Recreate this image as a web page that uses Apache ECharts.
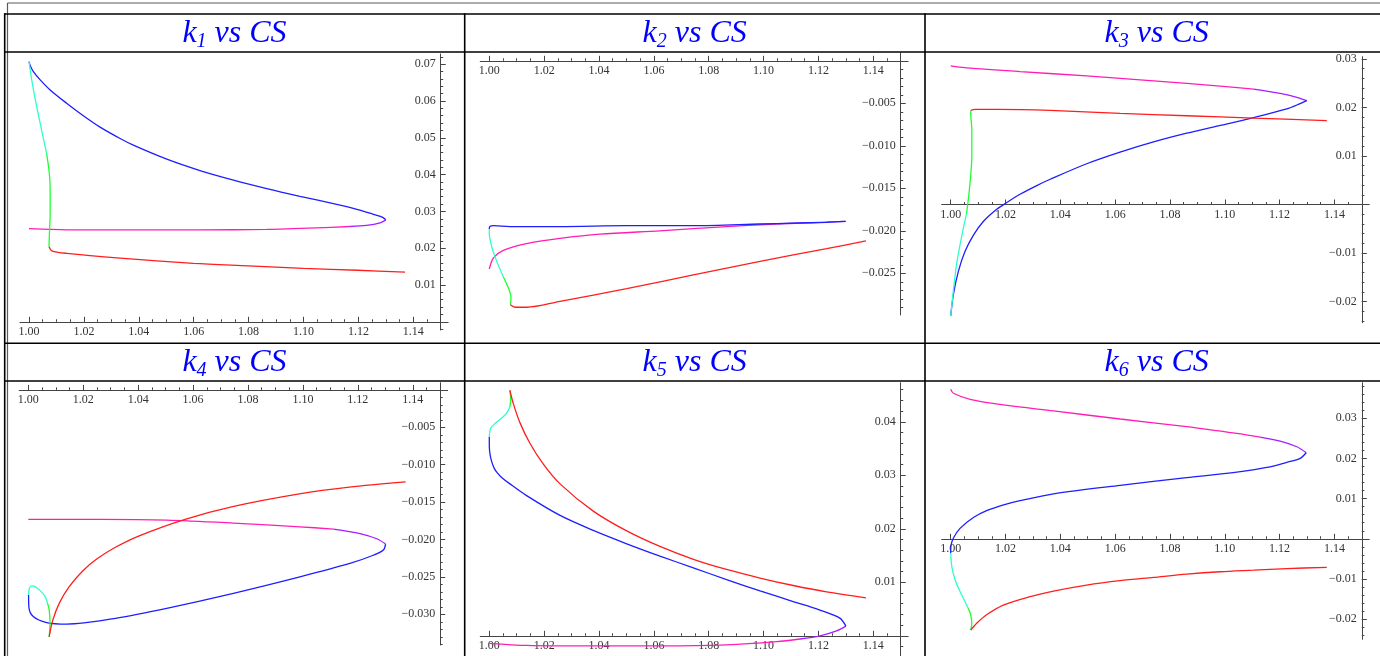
<!DOCTYPE html>
<html><head><meta charset="utf-8">
<script src="https://cdn.jsdelivr.net/npm/echarts@6/dist/echarts.min.js"></script>
<style>html,body{margin:0;padding:0;background:#fff}#c{width:1380px;height:656px}</style>
</head><body><div id="c"></div>
<script>
// ---------- tick labels ----------
const xTicks = [1.00, 1.02, 1.04, 1.06, 1.08, 1.10, 1.12, 1.14];
const k1YTicks = [0.01, 0.02, 0.03, 0.04, 0.05, 0.06, 0.07];
const k2YTicks = [-0.005, -0.010, -0.015, -0.020, -0.025];
const k3YTicks = [0.03, 0.02, 0.01, -0.01, -0.02];
const k4YTicks = [-0.005, -0.010, -0.015, -0.020, -0.025, -0.030];
const k5YTicks = [0.01, 0.02, 0.03, 0.04];
const k6YTicks = [0.03, 0.02, 0.01, -0.01, -0.02];
const subscripts = ['1', '2', '3', '4', '5', '6'];

// ---------- curve data (CS, k) along the parametric path ----------
const k1Magenta = [[1.0000,0.0253],[1.0137,0.0250],[1.0380,0.0250],[1.0623,0.0250],[1.0866,0.0251],[1.1048,0.0255],[1.1170,0.0259]];
const k1Purple = [[1.1170,0.0259],[1.1230,0.0262],[1.1279,0.0269],[1.1300,0.0277]];
const k1Blue = [[1.1300,0.0277],[1.1285,0.0285],[1.1255,0.0292],[1.1198,0.0305],[1.1109,0.0321],[1.0987,0.0341],[1.0866,0.0362],[1.0745,0.0385],[1.0623,0.0411],[1.0502,0.0442],[1.0380,0.0480],[1.0332,0.0498],[1.0259,0.0529],[1.0198,0.0560],[1.0137,0.0594],[1.0077,0.0630],[1.0040,0.0658],[1.0016,0.0680],[1.0005,0.0695],[1.0000,0.0707]];
const k1Cyan = [[1.0000,0.0707],[1.0010,0.0657],[1.0028,0.0585],[1.0046,0.0521],[1.0064,0.0458]];
const k1Green = [[1.0064,0.0458],[1.0074,0.0404],[1.0077,0.0358],[1.0077,0.0295],[1.0074,0.0231],[1.0073,0.0204]];
const k1Red = [[1.0073,0.0204],[1.0083,0.0193],[1.0137,0.0186],[1.0332,0.0173],[1.0599,0.0159],[1.0799,0.0152],[1.1000,0.0145],[1.1198,0.0140],[1.1370,0.0135]];

const k2Magenta = [[1.0000,-0.0245],[1.0015,-0.0232],[1.0051,-0.0223],[1.0136,-0.0215],[1.0258,-0.0209],[1.0403,-0.0204],[1.0622,-0.0200],[1.0865,-0.0195],[1.1048,-0.0192]];
const k2Purple = [[1.1048,-0.0192],[1.1205,-0.0190],[1.1299,-0.0189]];
const k2Blue = [[1.1299,-0.0189],[1.1230,-0.0190],[1.1108,-0.0191],[1.0987,-0.0192],[1.0744,-0.0194],[1.0501,-0.0194],[1.0258,-0.0195],[1.0075,-0.0195],[1.0015,-0.0194],[1.0002,-0.0195],[1.0000,-0.0198]];
const k2Cyan = [[1.0000,-0.0198],[1.0000,-0.0203],[1.0009,-0.0219],[1.0027,-0.0236],[1.0051,-0.0254]];
const k2Green = [[1.0051,-0.0254],[1.0073,-0.0270],[1.0079,-0.0279],[1.0077,-0.0287]];
const k2Red = [[1.0077,-0.0287],[1.0094,-0.0290],[1.0136,-0.0290],[1.0258,-0.0283],[1.0501,-0.0268],[1.0744,-0.0252],[1.0987,-0.0236],[1.1230,-0.0221],[1.1373,-0.0212]];

const k3Magenta = [[1.0000,0.0286],[1.0071,0.0281],[1.0253,0.0274],[1.0496,0.0265],[1.0740,0.0255],[1.0983,0.0244],[1.1105,0.0238]];
const k3Purple = [[1.1105,0.0238],[1.1202,0.0229],[1.1263,0.0221],[1.1299,0.0214]];
const k3Blue = [[1.1299,0.0214],[1.1275,0.0208],[1.1226,0.0197],[1.1105,0.0179],[1.0983,0.0163],[1.0861,0.0147],[1.0740,0.0129],[1.0618,0.0108],[1.0496,0.0084],[1.0363,0.0052],[1.0314,0.0039],[1.0253,0.0021],[1.0202,0.0003],[1.0168,-0.0010],[1.0119,-0.0035],[1.0083,-0.0063],[1.0052,-0.0097],[1.0028,-0.0138],[1.0010,-0.0185],[1.0000,-0.0230]];
const k3Cyan = [[1.0000,-0.0230],[1.0010,-0.0176],[1.0022,-0.0121],[1.0040,-0.0066],[1.0058,-0.0018]];
const k3Green = [[1.0058,-0.0018],[1.0068,0.0030],[1.0077,0.0099],[1.0077,0.0154],[1.0073,0.0188],[1.0073,0.0194]];
const k3Red = [[1.0073,0.0194],[1.0089,0.0196],[1.0168,0.0196],[1.0363,0.0194],[1.0618,0.0188],[1.0861,0.0183],[1.1105,0.0178],[1.1372,0.0173]];

const k4Magenta = [[1.0000,-0.0173],[1.0261,-0.0173],[1.0504,-0.0174],[1.0747,-0.0178],[1.0989,-0.0183],[1.1111,-0.0186]];
const k4Purple = [[1.1111,-0.0186],[1.1208,-0.0192],[1.1269,-0.0199],[1.1301,-0.0206]];
const k4Blue = [[1.1301,-0.0206],[1.1293,-0.0214],[1.1256,-0.0221],[1.1171,-0.0232],[1.0989,-0.0250],[1.0747,-0.0272],[1.0504,-0.0292],[1.0322,-0.0305],[1.0140,-0.0313],[1.0067,-0.0311],[1.0018,-0.0303],[1.0002,-0.0290],[1.0001,-0.0274]];
const k4Cyan = [[1.0001,-0.0274],[1.0004,-0.0265],[1.0012,-0.0262],[1.0024,-0.0263],[1.0042,-0.0268],[1.0061,-0.0276],[1.0070,-0.0285]];
const k4Green = [[1.0070,-0.0285],[1.0076,-0.0294],[1.0079,-0.0312],[1.0076,-0.0330]];
const k4Red = [[1.0076,-0.0330],[1.0089,-0.0308],[1.0113,-0.0285],[1.0149,-0.0263],[1.0198,-0.0242],[1.0249,-0.0226],[1.0319,-0.0210],[1.0404,-0.0195],[1.0571,-0.0173],[1.0744,-0.0156],[1.0987,-0.0139],[1.1169,-0.0130],[1.1374,-0.0123]];

const k5Magenta = [[1.0000,-0.0014],[1.0136,-0.0018],[1.0379,-0.0019],[1.0622,-0.0019],[1.0865,-0.0017],[1.1048,-0.0011],[1.1133,-0.0006]];
const k5Purple = [[1.1133,-0.0006],[1.1206,0.0000],[1.1266,0.0009],[1.1300,0.0018]];
const k5Blue = [[1.1300,0.0018],[1.1278,0.0033],[1.1205,0.0048],[1.1108,0.0064],[1.0987,0.0084],[1.0865,0.0105],[1.0744,0.0127],[1.0622,0.0149],[1.0501,0.0172],[1.0379,0.0197],[1.0258,0.0225],[1.0136,0.0262],[1.0075,0.0284],[1.0045,0.0296],[1.0030,0.0304],[1.0018,0.0313],[1.0009,0.0325],[1.0003,0.0338],[1.0000,0.0355],[1.0000,0.0372]];
const k5Cyan = [[1.0000,0.0372],[1.0005,0.0388],[1.0021,0.0397],[1.0045,0.0407],[1.0063,0.0416],[1.0075,0.0428]];
const k5Green = [[1.0075,0.0428],[1.0078,0.0441],[1.0075,0.0459]];
const k5Red = [[1.0075,0.0459],[1.0087,0.0435],[1.0112,0.0398],[1.0148,0.0360],[1.0197,0.0321],[1.0258,0.0284],[1.0379,0.0233],[1.0501,0.0196],[1.0622,0.0167],[1.0744,0.0143],[1.0865,0.0124],[1.0987,0.0108],[1.1108,0.0094],[1.1230,0.0082],[1.1373,0.0071]];

const k6Magenta = [[1.0000,0.0372],[1.0010,0.0362],[1.0071,0.0347],[1.0192,0.0333],[1.0375,0.0318],[1.0618,0.0298],[1.0861,0.0279],[1.1044,0.0262],[1.1129,0.0253]];
const k6Purple = [[1.1129,0.0253],[1.1202,0.0243],[1.1263,0.0229],[1.1297,0.0214]];
const k6Blue = [[1.1297,0.0214],[1.1275,0.0200],[1.1226,0.0190],[1.1165,0.0179],[1.1044,0.0166],[1.0861,0.0152],[1.0618,0.0133],[1.0375,0.0112],[1.0253,0.0095],[1.0190,0.0084],[1.0131,0.0070],[1.0083,0.0053],[1.0034,0.0026],[1.0010,0.0002],[1.0001,-0.0018],[1.0000,-0.0036]];
const k6Cyan = [[1.0000,-0.0036],[1.0004,-0.0069],[1.0016,-0.0102],[1.0034,-0.0131],[1.0052,-0.0156],[1.0064,-0.0173]];
const k6Green = [[1.0064,-0.0173],[1.0073,-0.0189],[1.0077,-0.0210],[1.0073,-0.0227]];
const k6Red = [[1.0073,-0.0227],[1.0095,-0.0210],[1.0131,-0.0189],[1.0192,-0.0165],[1.0290,-0.0144],[1.0375,-0.0130],[1.0496,-0.0115],[1.0618,-0.0104],[1.0740,-0.0096],[1.0861,-0.0088],[1.0983,-0.0082],[1.1105,-0.0078],[1.1226,-0.0074],[1.1372,-0.0071]];

// ---------- styling / layout ----------
const segColors = {magenta:'#ff1eb4', purple:'#a41eff', blue:'#1e1eff', cyan:'#2effc8', green:'#1eff2e', red:'#ff1e1e'};
const XMIN = 0.9967, XMAX = 1.1527, YAXIS_AT = 1.15, X_MINOR = 0.005;
const FONT = "'Liberation Serif','Times New Roman',serif";

const panels = [
  {segs:{magenta:k1Magenta,purple:k1Purple,blue:k1Blue,cyan:k1Cyan,green:k1Green,red:k1Red}, yTicks:k1YTicks, yMinor:0.002, dec:2,
   lay:{left:19.94, top:54, width:428.2, height:276, ymin:-0.00223, ymax:0.07277, tx:234.5, ty:15.5}},
  {segs:{magenta:k2Magenta,purple:k2Purple,blue:k2Blue,cyan:k2Cyan,green:k2Green,red:k2Red}, yTicks:k2YTicks, yMinor:0.001, dec:3,
   lay:{left:480.25, top:53, width:427.9, height:262, ymin:-0.02991, ymax:0.000918, tx:694.7, ty:15.5}},
  {segs:{magenta:k3Magenta,purple:k3Purple,blue:k3Blue,cyan:k3Cyan,green:k3Green,red:k3Red}, yTicks:k3YTicks, yMinor:0.002, dec:2,
   lay:{left:941.65, top:56.7, width:427.6, height:266, ymin:-0.02437, ymax:0.03047, tx:1156.7, ty:15.5}},
  {segs:{magenta:k4Magenta,purple:k4Purple,blue:k4Blue,cyan:k4Cyan,green:k4Green,red:k4Red}, yTicks:k4YTicks, yMinor:0.001, dec:3,
   lay:{left:19.24, top:382.7, width:428.4, height:262.3, ymin:-0.0341, ymax:0.000963, tx:234.5, ty:345}},
  {segs:{magenta:k5Magenta,purple:k5Purple,blue:k5Blue,cyan:k5Cyan,green:k5Green,red:k5Red}, yTicks:k5YTicks, yMinor:0.002, dec:2,
   lay:{left:480.25, top:382.7, width:427.9, height:279.3, ymin:-0.0049, ymax:0.04731, tx:694.7, ty:345}},
  {segs:{magenta:k6Magenta,purple:k6Purple,blue:k6Blue,cyan:k6Cyan,green:k6Green,red:k6Red}, yTicks:k6YTicks, yMinor:0.002, dec:2,
   lay:{left:941.65, top:382.7, width:427.6, height:256.6, ymin:-0.025, ymax:0.03883, tx:1156.7, ty:345}}
];

function stepValues(min, max, step) {
  const out = [];
  for (let n = Math.ceil(min / step - 1e-9); n * step <= max + 1e-12; n++) out.push(+(n * step).toFixed(6));
  return out;
}
function fmt(dec) { return v => Number(v).toFixed(dec).replace('-', '\u2212'); }

const grids = [], xAxes = [], yAxes = [], series = [], titles = [];
const tickColor = '#444';
const labelStyle = {fontFamily: FONT, fontSize: 12, color: '#333'};

panels.forEach((p, i) => {
  const L = p.lay;
  grids.push({left: L.left, top: L.top, width: L.width, height: L.height, containLabel: false, outerBoundsMode: 'none'});
  const axisPx = L.left + L.width * (YAXIS_AT - XMIN) / (XMAX - XMIN);
  const zeroPx = L.top + L.height * L.ymax / (L.ymax - L.ymin);
  const xMinor = stepValues(XMIN, XMAX, X_MINOR);
  const yMinor = stepValues(L.ymin, L.ymax, p.yMinor);

  xAxes.push({gridIndex: i, type: 'value', min: XMIN, max: XMAX, position: 'bottom', offset: zeroPx - (L.top + L.height),
    axisLine: {show: true, onZero: false, lineStyle: {color: tickColor, width: 1}},
    axisTick: {show: true, customValues: xTicks, inside: true, length: 5, lineStyle: {color: tickColor}},
    axisLabel: Object.assign({show: true, customValues: xTicks, margin: 4, formatter: fmt(2)}, labelStyle),
    splitLine: {show: false}, minorTick: {show: false}});
  xAxes.push({gridIndex: i, type: 'value', min: XMIN, max: XMAX, position: 'top', offset: L.top - zeroPx,
    axisLine: {show: false, onZero: false},
    axisTick: {show: true, customValues: xMinor, inside: false, length: 2.5, lineStyle: {color: tickColor}},
    axisLabel: {show: false}, splitLine: {show: false}});
  yAxes.push({gridIndex: i, type: 'value', min: L.ymin, max: L.ymax, position: 'right', offset: axisPx - (L.left + L.width),
    axisLine: {show: true, onZero: false, lineStyle: {color: tickColor, width: 1}},
    axisTick: {show: true, customValues: p.yTicks, inside: false, length: 5, lineStyle: {color: tickColor}},
    axisLabel: Object.assign({show: true, customValues: p.yTicks, inside: true, margin: 5, formatter: fmt(p.dec)}, labelStyle),
    splitLine: {show: false}});
  yAxes.push({gridIndex: i, type: 'value', min: L.ymin, max: L.ymax, position: 'left', offset: L.left - axisPx,
    axisLine: {show: false, onZero: false},
    axisTick: {show: true, customValues: yMinor, inside: true, length: 2.5, lineStyle: {color: tickColor}},
    axisLabel: {show: false}, splitLine: {show: false}});

  Object.keys(p.segs).forEach(name => {
    series.push({type: 'line', xAxisIndex: 2 * i, yAxisIndex: 2 * i, data: p.segs[name],
      showSymbol: false, symbol: 'none', smooth: 0.3, silent: true, clip: true,
      lineStyle: {color: segColors[name], width: 1.3}, itemStyle: {color: segColors[name]}});
  });

  const main = {fontFamily: FONT, fontStyle: 'italic', fontWeight: 'normal', fontSize: 32, color: '#0000ff', lineHeight: 36};
  titles.push({text: '{k|k}{s|' + subscripts[i] + '}{t| vs CS}', left: L.tx, top: L.ty, textAlign: 'center', padding: 0,
    textStyle: {fontWeight: 'normal', fontStyle: 'italic', fontFamily: FONT, color: '#0000ff', rich: {k: main, t: main,
      s: {fontFamily: FONT, fontStyle: 'italic', fontWeight: 'normal', fontSize: 20, color: '#0000ff', lineHeight: 19, verticalAlign: 'bottom'}}}});
});

// table rules
const gray = '#5a5a5a', black = '#000';
function ln(x1, y1, x2, y2, c, w) { return {type: 'line', silent: true, z: 100, shape: {x1, y1, x2, y2}, style: {stroke: c, lineWidth: w}}; }
const graphic = [
  ln(7.5, 3, 7.5, 656, gray, 1.2), ln(7.5, 3, 1380, 3, gray, 1.2),
  ln(4.7, 13.3, 4.7, 656, black, 1.6), ln(464.7, 13.3, 464.7, 656, black, 1.6), ln(925, 13.3, 925, 656, black, 1.6),
  ln(4, 14, 1380, 14, black, 1.6), ln(4, 52, 1380, 52, black, 1.6),
  ln(4, 343.3, 1380, 343.3, black, 1.6), ln(4, 381, 1380, 381, black, 1.6)
];

const chart = echarts.init(document.getElementById('c'), null, {renderer: 'canvas'});
chart.setOption({animation: false, backgroundColor: '#fff', title: titles, grid: grids, xAxis: xAxes, yAxis: yAxes, series, graphic, tooltip: {show: false}});
</script></body></html>
